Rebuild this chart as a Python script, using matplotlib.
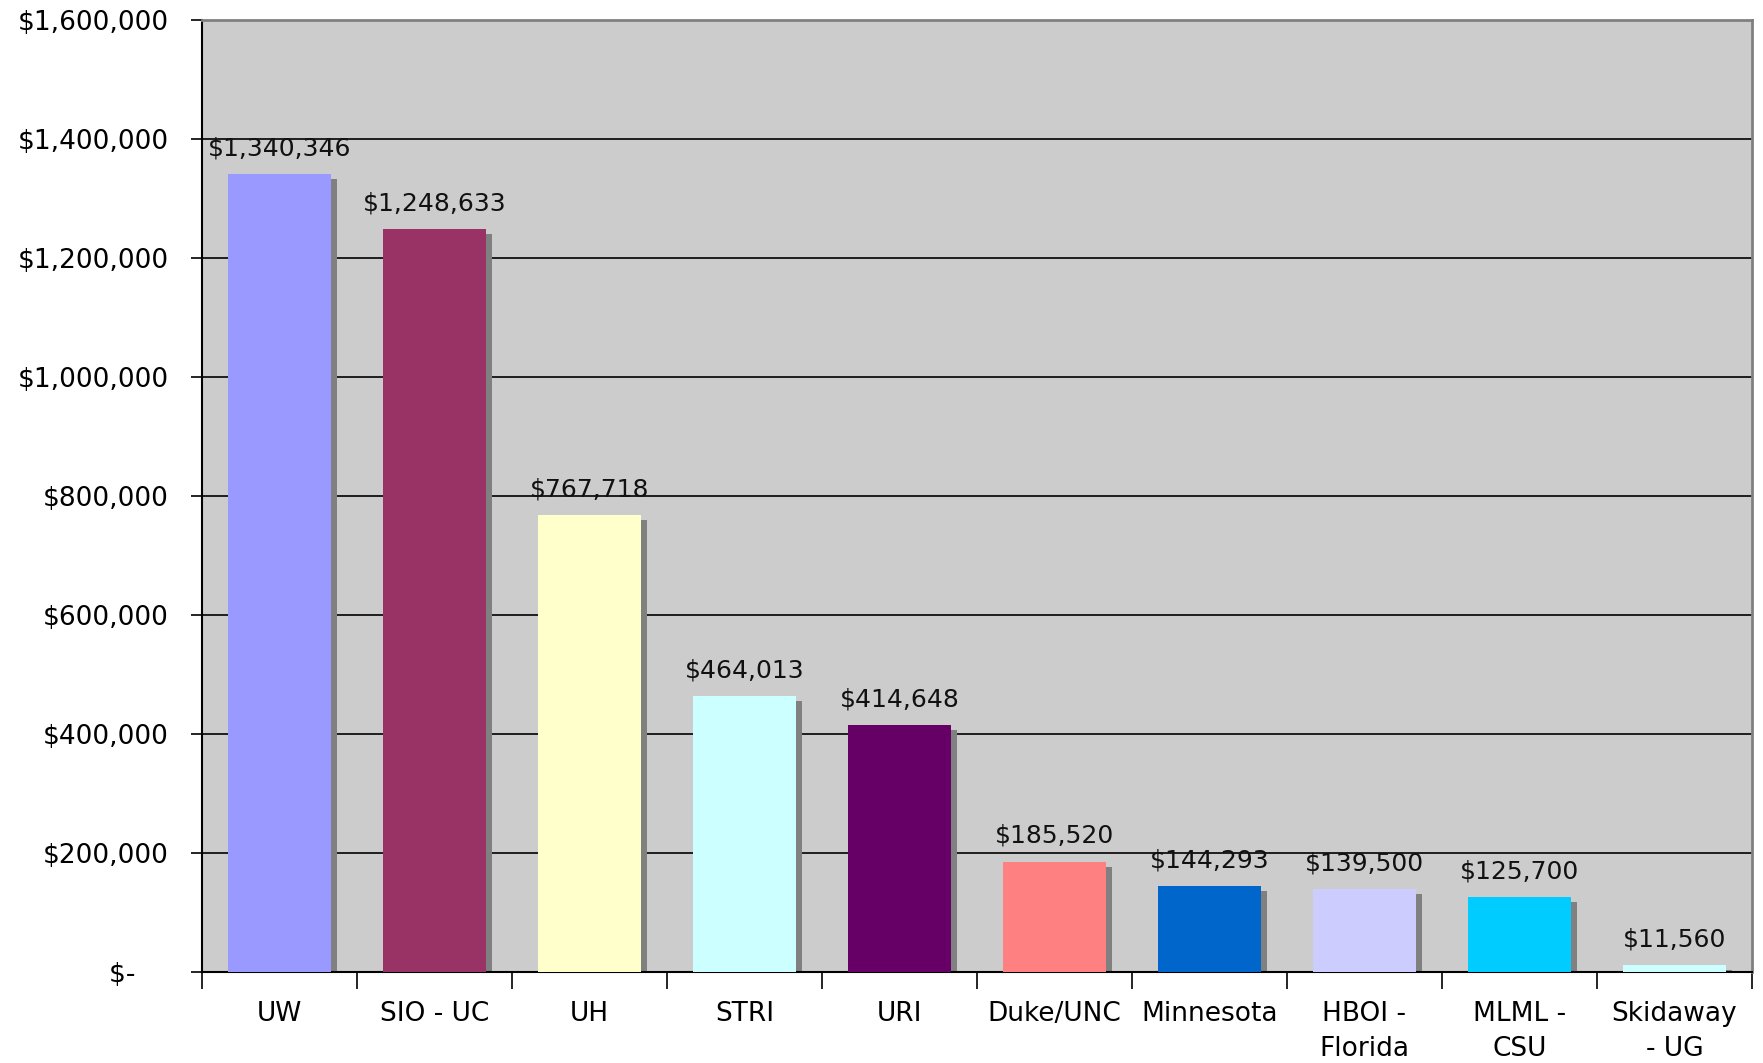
import matplotlib.pyplot as plt
import matplotlib.transforms as mtransforms
from matplotlib.ticker import FuncFormatter
import numpy as np

# Funding by institution
institutions = ['UW', 'SIO - UC', 'UH', 'STRI', 'URI', 'Duke/UNC', 'Minnesota',
                'HBOI -\nFlorida', 'MLML -\nCSU', 'Skidaway\n- UG']
amounts = [1340346, 1248633, 767718, 464013, 414648, 185520, 144293, 139500, 125700, 11560]
bar_colors = ['#9999FF', '#993366', '#FFFFCC', '#CCFFFF', '#660066', '#FF8080',
              '#0066CC', '#CCCCFF', '#00CCFF', '#CCFFFF']

plt.rcParams['font.family'] = 'DejaVu Sans'

fig = plt.figure(figsize=(17.63, 10.63), dpi=100)
ax = fig.add_axes([202 / 1763, 1 - 972 / 1063, 1550 / 1763, 952 / 1063])
ax.set_facecolor('#CCCCCC')

x = np.arange(len(institutions))
width = 0.67

# drop shadow, shifted right and down a few pixels
shadow = mtransforms.offset_copy(ax.transData, fig=fig, x=6, y=-5, units='dots')
ax.bar(x, amounts, width=width, color='#808080', transform=shadow, zorder=2)
ax.bar(x, amounts, width=width, color=bar_colors, zorder=3)

for xi, v in zip(x, amounts):
    ax.annotate(f'${v:,.0f}', (xi, v), xytext=(0, 10), textcoords='offset points',
                ha='center', va='bottom', fontsize=18, color='#111111')

ax.set_ylim(0, 1600000)
ax.set_xlim(-0.5, len(institutions) - 0.5)
ax.set_yticks(np.arange(0, 1600001, 200000))
# accounting style zero: "$-" padded on the right
ax.yaxis.set_major_formatter(FuncFormatter(lambda v, p: '$-    ' if v == 0 else f'${v:,.0f}'))
ax.grid(axis='y', color='black', linewidth=1.2, zorder=1)
ax.set_axisbelow(True)

# ticks between categories, labels at centers
ax.set_xticks(np.arange(-0.5, len(institutions), 1.0))
ax.set_xticklabels([])
ax.set_xticks(x, minor=True)
ax.set_xticklabels(institutions, minor=True, fontsize=19, linespacing=1.45)
ax.tick_params(axis='x', which='major', length=12, width=1.2, direction='out')
ax.tick_params(axis='x', which='minor', length=0, pad=21)
ax.tick_params(axis='y', length=8, width=1.2, labelsize=19, pad=16)

for s in ['left', 'bottom']:
    ax.spines[s].set_color('black')
    ax.spines[s].set_linewidth(1.5)
for s in ['top', 'right']:
    ax.spines[s].set_color('#808080')
    ax.spines[s].set_linewidth(2)

plt.savefig('out.png', dpi=100)
